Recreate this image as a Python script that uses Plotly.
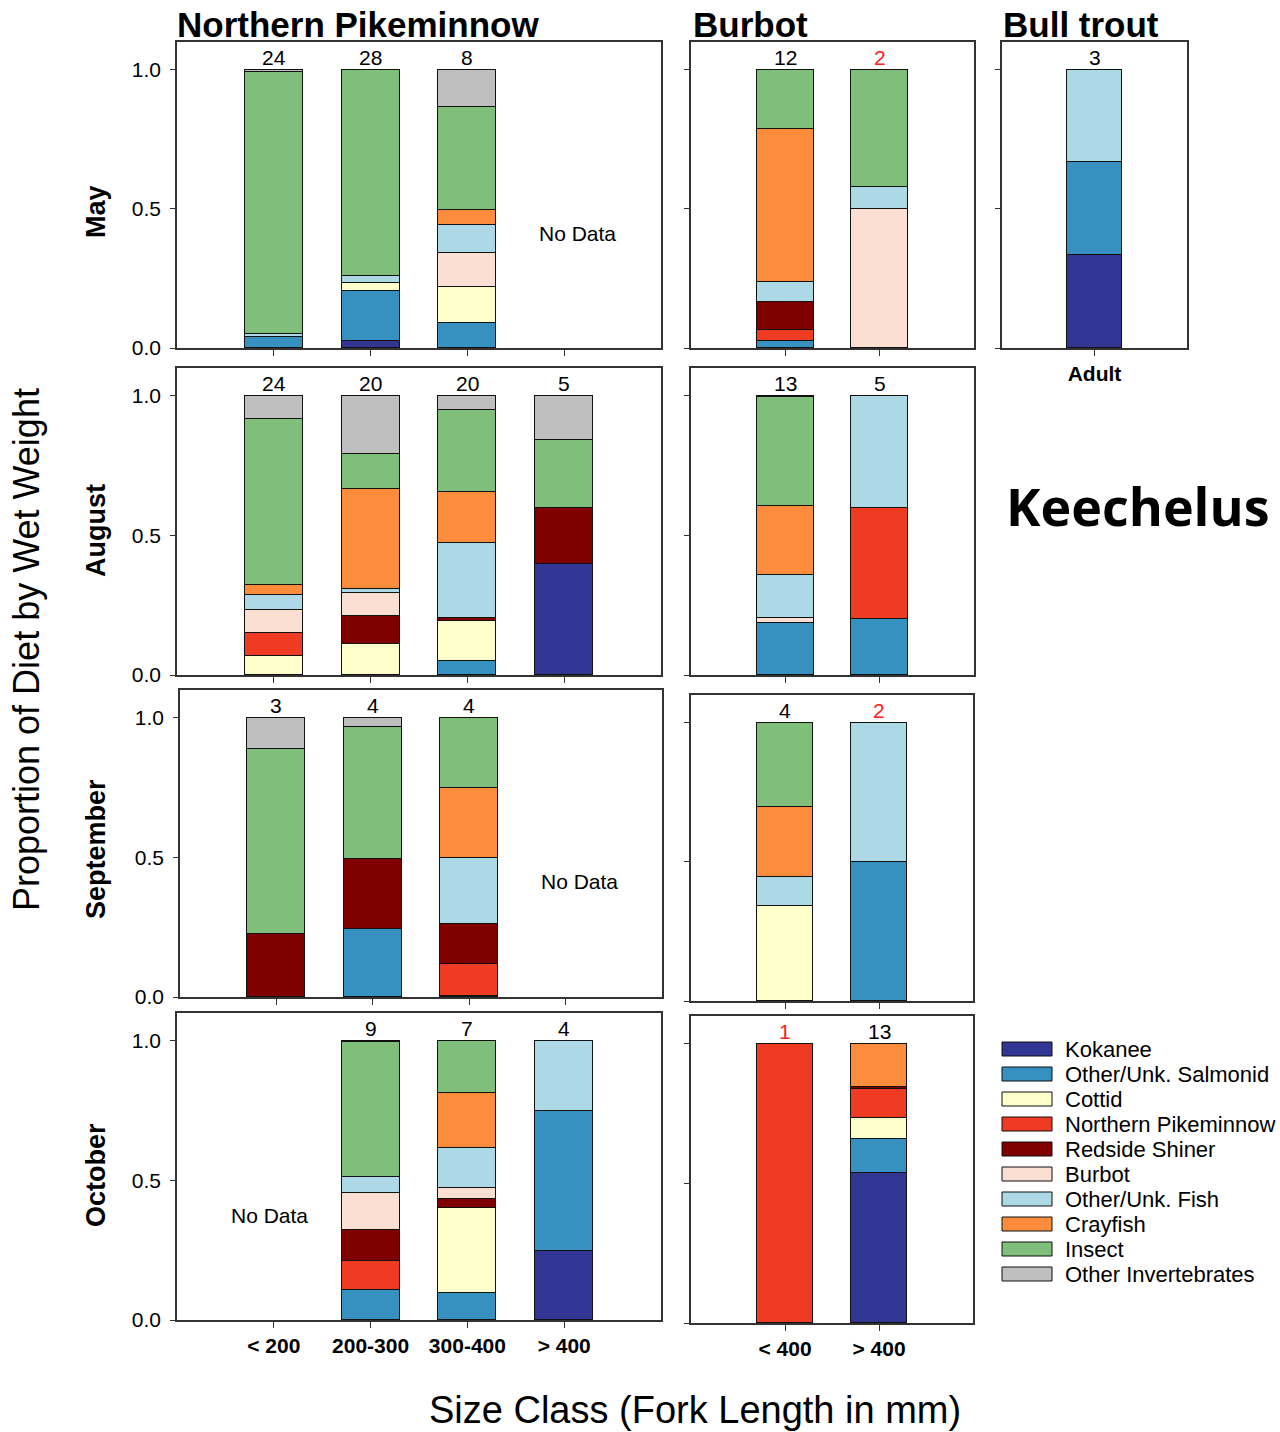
import plotly.graph_objects as go

W, H = 1280, 1432
H_DRAWN = 1421  # height the page is actually drawn at; used for pixel placement
FONT = "Liberation Sans, Arial, sans-serif"

# Prey categories (stacked bottom to top) and their fill colours
PREY = ["Kokanee", "Other/Unk. Salmonid", "Cottid", "Northern Pikeminnow",
        "Redside Shiner", "Burbot", "Other/Unk. Fish", "Crayfish", "Insect",
        "Other Invertebrates"]
PREY_COLORS = ["#313695", "#3690C0", "#FFFFCC", "#EF3B22", "#800000",
               "#FCDFD3", "#ADD8E6", "#FD8D3C", "#7FBF7B", "#BFBFBF"]

NP_SIZES = ["< 200", "200-300", "300-400", "> 400"]
BURBOT_SIZES = ["< 400", "> 400"]
BULL_SIZES = ["Adult"]

# Diet proportions by wet weight, one row per size class, columns in PREY order.
# None marks a size class with no fish sampled.
NP_MAY = [
    [0, 0.040, 0, 0, 0, 0, 0.010, 0, 0.942, 0.008],
    [0.026, 0.178, 0.031, 0, 0, 0, 0.023, 0, 0.742, 0],
    [0, 0.090, 0.129, 0, 0, 0.124, 0.099, 0.053, 0.372, 0.133],
    None,
]
BURBOT_MAY = [
    [0, 0.026, 0, 0.037, 0.102, 0, 0.074, 0.550, 0.211, 0],
    [0, 0, 0, 0, 0, 0.500, 0.079, 0, 0.421, 0],
]
BULL_MAY = [
    [0.333, 0.334, 0, 0, 0, 0, 0.333, 0, 0, 0],
]
NP_AUG = [
    [0, 0, 0.068, 0.084, 0, 0.082, 0.053, 0.036, 0.593, 0.084],
    [0, 0, 0.110, 0, 0.101, 0.083, 0.015, 0.358, 0.124, 0.209],
    [0, 0.051, 0.144, 0, 0.010, 0, 0.269, 0.182, 0.295, 0.049],
    [0.398, 0, 0, 0, 0.200, 0, 0, 0, 0.245, 0.157],
]
BURBOT_AUG = [
    [0, 0.187, 0, 0, 0, 0.018, 0.154, 0.245, 0.392, 0.004],
    [0, 0.199, 0, 0.401, 0, 0, 0.400, 0, 0, 0],
]
NP_SEP = [
    [0, 0, 0, 0, 0.224, 0, 0, 0, 0.666, 0.110],
    [0, 0.243, 0, 0, 0.252, 0, 0, 0, 0.472, 0.033],
    [0, 0.005, 0, 0.115, 0.143, 0, 0.236, 0.251, 0.250, 0],
    None,
]
BURBOT_SEP = [
    [0, 0, 0.341, 0, 0, 0, 0.104, 0.252, 0.303, 0],
    [0, 0.498, 0, 0, 0, 0, 0.502, 0, 0, 0],
]
NP_OCT = [
    None,
    [0, 0.109, 0, 0.104, 0.110, 0.132, 0.057, 0, 0.484, 0.004],
    [0, 0.096, 0.306, 0, 0.033, 0.037, 0.144, 0.197, 0.187, 0],
    [0.249, 0.500, 0, 0, 0, 0, 0.251, 0, 0, 0],
]
BURBOT_OCT = [
    [0, 0, 0, 1.000, 0, 0, 0, 0, 0, 0],
    [0.538, 0.121, 0.074, 0.105, 0.006, 0, 0, 0.156, 0, 0],
]

# Number of stomachs sampled per size class
N_NP_MAY = [24, 28, 8, None]
N_BURBOT_MAY = [12, 2]
N_BULL_MAY = [3]
N_NP_AUG = [24, 20, 20, 5]
N_BURBOT_AUG = [13, 5]
N_NP_SEP = [3, 4, 4, None]
N_BURBOT_SEP = [4, 2]
N_NP_OCT = [None, 9, 7, 4]
N_BURBOT_OCT = [1, 13]

SMALL_N = 2  # counts at or below this are flagged in red

MONTHS = ["May", "August", "September", "October"]
SPECIES = ["Northern Pikeminnow", "Burbot", "Bull trout"]

# panel: data, counts, size classes, pixel box (left, right, top, bottom),
#        y labels shown, x labels shown, "No Data" spot (x, y) in data units
PANELS = [
    (NP_MAY, N_NP_MAY, NP_SIZES, (177, 661, 42, 348), True, False, (3.14, 0.41)),
    (BURBOT_MAY, N_BURBOT_MAY, BURBOT_SIZES, (691, 974, 42, 348), False, False, None),
    (BULL_MAY, N_BULL_MAY, BULL_SIZES, (1002, 1187, 42, 348), False, True, None),
    (NP_AUG, N_NP_AUG, NP_SIZES, (177, 661, 368, 675), True, False, None),
    (BURBOT_AUG, N_BURBOT_AUG, BURBOT_SIZES, (691, 974, 368, 675), False, False, None),
    (NP_SEP, N_NP_SEP, NP_SIZES, (180, 662, 690, 997), True, False, (3.14, 0.415)),
    (BURBOT_SEP, N_BURBOT_SEP, BURBOT_SIZES, (691, 973, 695, 1001), False, False, None),
    (NP_OCT, N_NP_OCT, NP_SIZES, (177, 661, 1013, 1320), True, True, (-0.04, 0.373)),
    (BURBOT_OCT, N_BURBOT_OCT, BURBOT_SIZES, (691, 973, 1016, 1323), False, True, None),
]


def px_x(x):
    return x / W


def px_y(y):
    return 1 - y / H_DRAWN


fig = go.Figure()
annotations = []
shapes = []

for k, (data, counts, sizes, box, ylab, xlab, nodata) in enumerate(PANELS, start=1):
    s = "" if k == 1 else str(k)
    xs = list(range(len(sizes)))
    for j, prey in enumerate(PREY):
        vals = [row[j] if (row is not None and row[j] > 0) else None for row in data]
        fig.add_trace(go.Bar(
            x=xs, y=vals, name=prey, width=0.6,
            marker=dict(color=PREY_COLORS[j], line=dict(color="#111111", width=1)),
            xaxis="x" + s, yaxis="y" + s, showlegend=False,
            hovertemplate=prey + ": %{y:.2f}<extra></extra>",
        ))

    left, right, top, bottom = box
    fig.layout["xaxis" + s] = dict(
        domain=[px_x(left), px_x(right)], range=[-1, len(sizes)],
        anchor="y" + s, tickvals=xs, ticktext=sizes, showticklabels=xlab,
        ticks="outside", ticklen=6, tickcolor="#333333", ticklabelstandoff=0,
        tickfont=dict(family=FONT, size=21, color="black", weight="bold"),
        showline=True, mirror=True, linecolor="#333333", linewidth=1.5,
        showgrid=False, zeroline=False, fixedrange=True,
    )
    fig.layout["yaxis" + s] = dict(
        domain=[px_y(bottom), px_y(top)], range=[0, 1.1],
        anchor="x" + s, tickvals=[0, 0.5, 1.0], ticktext=["0.0", "0.5", "1.0"],
        showticklabels=ylab, ticks="outside", ticklen=5, tickcolor="#333333",
        ticklabelstandoff=5,
        tickfont=dict(family=FONT, size=21, color="black"),
        showline=True, mirror=True, linecolor="#333333", linewidth=1.5,
        showgrid=False, zeroline=False, fixedrange=True,
    )

    # sample sizes above each bar
    for i, n in enumerate(counts):
        if n is None:
            continue
        annotations.append(dict(
            x=i, y=1.0, xref="x" + s, yref="y" + s, text=str(n),
            showarrow=False, yanchor="bottom", yshift=-1,
            font=dict(family=FONT, size=21, color="#FF2020" if n <= SMALL_N else "black"),
        ))

    if nodata is not None:
        annotations.append(dict(
            x=nodata[0], y=nodata[1], xref="x" + s, yref="y" + s, text="No Data",
            showarrow=False, xanchor="center", yanchor="middle",
            font=dict(family=FONT, size=21, color="black"),
        ))

# species headings
for name, xleft in zip(SPECIES, [175, 691, 1001]):
    annotations.append(dict(
        x=px_x(xleft), y=px_y(24), xref="paper", yref="paper", text=name,
        showarrow=False, xanchor="left", yanchor="middle",
        font=dict(family=FONT, size=35, color="black", weight="bold"),
    ))

# month labels
for month, yc in zip(MONTHS, [212, 531, 849, 1175]):
    annotations.append(dict(
        x=px_x(96), y=px_y(yc), xref="paper", yref="paper", text=month,
        showarrow=False, textangle=-90, xanchor="center", yanchor="middle",
        font=dict(family=FONT, size=27, color="black", weight="bold"),
    ))

# overall axis titles
annotations.append(dict(
    x=px_x(27), y=px_y(650), xref="paper", yref="paper",
    text="Proportion of Diet by Wet Weight", showarrow=False, textangle=-90,
    xanchor="center", yanchor="middle",
    font=dict(family=FONT, size=36, color="black"),
))
annotations.append(dict(
    x=px_x(695), y=px_y(1410), xref="paper", yref="paper",
    text="Size Class (Fork Length in mm)", showarrow=False,
    xanchor="center", yanchor="middle",
    font=dict(family=FONT, size=38, color="black"),
))

# lake name
annotations.append(dict(
    x=px_x(1004), y=px_y(505), xref="paper", yref="paper", text="Keechelus",
    showarrow=False, xanchor="left", yanchor="middle",
    font=dict(family="Open Sans, sans-serif", size=52, color="black", weight="bold"),
))

# prey legend
for i, (prey, col) in enumerate(zip(PREY, PREY_COLORS)):
    yc = 1049 + 25 * i
    shapes.append(dict(
        type="rect", xref="paper", yref="paper",
        x0=px_x(1002), x1=px_x(1052), y0=px_y(yc + 7), y1=px_y(yc - 7),
        fillcolor=col, line=dict(color="#111111", width=1),
    ))
    annotations.append(dict(
        x=px_x(1063), y=px_y(yc), xref="paper", yref="paper", text=prey,
        showarrow=False, xanchor="left", yanchor="middle",
        font=dict(family=FONT, size=22, color="black"),
    ))

fig.update_layout(
    width=W, height=H, autosize=False, barmode="stack", bargap=0,
    margin=dict(l=0, r=0, t=0, b=0, pad=0),
    paper_bgcolor="white", plot_bgcolor="white",
    annotations=annotations, shapes=shapes, showlegend=False,
)

fig.write_html("out.html", config={"displayModeBar": False})
